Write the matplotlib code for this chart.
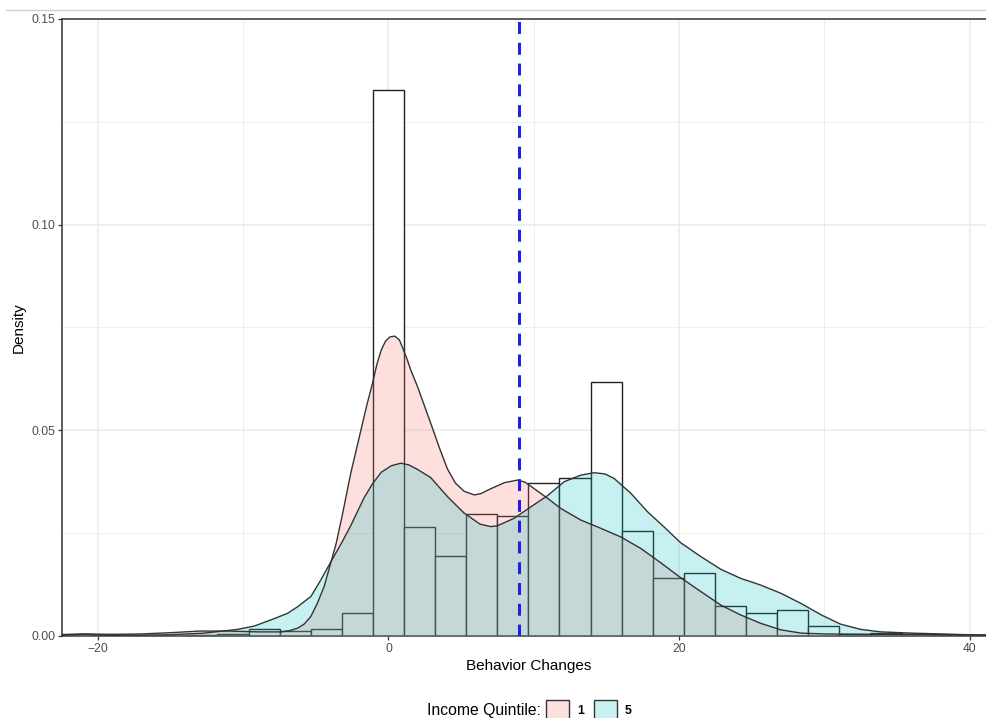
import numpy as np
import matplotlib
matplotlib.use('Agg')
import matplotlib.pyplot as plt
from matplotlib.patches import Rectangle
from matplotlib.lines import Line2D
from matplotlib.ticker import MultipleLocator

plt.rcParams['font.family'] = ['Liberation Sans', 'DejaVu Sans']

# histogram of all observations (density scale), bins centred on multiples of the width
bin_width = 2.14
bin_index = list(range(-10, 20))
bin_density = [0.0004, 0.0002, 0.0000, 0.0001, 0.0003, 0.0006, 0.0017, 0.0012,
               0.0016, 0.0055, 0.1328, 0.0266, 0.0194, 0.0296, 0.0292, 0.0373,
               0.0383, 0.0618, 0.0255, 0.0140, 0.0152, 0.0073, 0.0057, 0.0062,
               0.0024, 0.0004, 0.0008, 0.0005, 0.0002, 0.0001]

# density curve, income quintile 1
q1_x = [-22.47, -21, -19, -17, -15, -13, -11, -9, -7.4, -6.8, -6.26, -5.8, -5.35,
        -4.89, -4.43, -3.97, -3.6, -3.2, -2.6, -1.9, -1.5, -1.1, -0.8, -0.5, -0.2,
        0.1, 0.43, 0.75, 1.07, 1.3, 1.53, 2.0, 2.45, 2.9, 3.5, 4.06, 4.6, 5.2, 5.9,
        6.35, 7.04, 8.0, 8.88, 9.4, 9.8, 10.94, 11.86, 13.23, 14.6, 15.98, 17.36,
        18.74, 20.1, 21.5, 22.88, 24.25, 25.6, 27.0, 28.4, 30, 33, 36, 39, 41.73]
q1_y = [0.0003, 0.0005, 0.0004, 0.0005, 0.0008, 0.0012, 0.0012, 0.0010, 0.0010,
        0.0013, 0.0019, 0.0029, 0.0047, 0.0080, 0.0120, 0.0178, 0.0225, 0.0290,
        0.0395, 0.0500, 0.0560, 0.0614, 0.0660, 0.0695, 0.0717, 0.0727, 0.0729,
        0.0720, 0.0692, 0.0671, 0.0647, 0.0606, 0.0562, 0.0518, 0.0458, 0.0406,
        0.0372, 0.0352, 0.0343, 0.0346, 0.0358, 0.0373, 0.0379, 0.0374, 0.0364,
        0.0335, 0.0310, 0.0282, 0.0262, 0.0241, 0.0213, 0.0178, 0.0142, 0.0108,
        0.0075, 0.0051, 0.0031, 0.0015, 0.0007, 0.0005, 0.0004, 0.0004, 0.0003,
        0.0002]

# density curve, income quintile 5
q5_x = [-22.47, -21, -19, -17, -15, -12.7, -10.4, -9.25, -8.1, -6.95, -6.26, -5.34,
        -4.66, -3.97, -3.2, -2.6, -2.1, -1.68, -1.1, -0.5, 0.2, 0.85, 1.4, 2.0,
        2.91, 4.06, 5.2, 6.3, 7.04, 7.5, 8.64, 9.8, 10.94, 12.09, 13.23, 14.15,
        14.9, 15.53, 16.68, 17.83, 18.97, 20.1, 21.5, 22.88, 24.25, 25.6, 27.0,
        28.4, 29.8, 31.1, 32.5, 33.9, 36, 38, 40, 41.73]
q5_y = [0.0002, 0.0004, 0.0002, 0.0002, 0.0003, 0.0007, 0.0016, 0.0024, 0.0039,
        0.0055, 0.0071, 0.0096, 0.0136, 0.0180, 0.0228, 0.0268, 0.0305, 0.0336,
        0.0370, 0.0398, 0.0414, 0.0420, 0.0416, 0.0405, 0.0385, 0.0339, 0.0299,
        0.0272, 0.0266, 0.0268, 0.0286, 0.0314, 0.0341, 0.0375, 0.0391, 0.0397,
        0.0394, 0.0383, 0.0347, 0.0302, 0.0265, 0.0227, 0.0193, 0.0162, 0.0140,
        0.0124, 0.0104, 0.0079, 0.0051, 0.0029, 0.0016, 0.0010, 0.0007, 0.0005,
        0.0003, 0.0002]

mean_change = 9.0
group_labels = ['1', '5']
group_colors = ['#F8766D', '#00BFC4']

W, H = 986, 718
fig = plt.figure(figsize=(W / 100, H / 100), dpi=100)
left, right, top, bottom = 62, 994.8, 19, 636
ax = fig.add_axes([left / W, (H - bottom) / H, (right - left) / W, (bottom - top) / H])

centers = [k * bin_width for k in bin_index]
xmin = (bin_index[0] - 0.5) * bin_width
xmax = (bin_index[-1] + 0.5) * bin_width

ax.bar(centers, bin_density, width=bin_width, color='white', edgecolor='#222222',
       linewidth=1.0, zorder=2)

for xs, ys, col in [(q1_x, q1_y, group_colors[0]), (q5_x, q5_y, group_colors[1])]:
    ax.fill_between(xs, ys, 0, color=col, alpha=0.22, linewidth=0, zorder=3)
    ax.plot(xs, ys, color='#333333', linewidth=1.0, zorder=4, solid_joinstyle='round')

ax.axvline(mean_change, color='#1f1fe8', linewidth=2.2, dashes=(3.9, 2.9), zorder=5)

ax.set_xlim(xmin, xmax)
ax.set_ylim(0, 0.15)
ax.set_xticks([-20, 0, 20, 40])
ax.xaxis.set_minor_locator(MultipleLocator(10))
ax.set_yticks([0, 0.05, 0.10, 0.15])
ax.set_yticklabels(['0.00', '0.05', '0.10', '0.15'])
ax.yaxis.set_minor_locator(MultipleLocator(0.025))
ax.grid(which='major', color='#ebebeb', linewidth=1.1, zorder=0)
ax.grid(which='minor', color='#ebebeb', linewidth=0.6, zorder=0)
ax.set_axisbelow(True)
ax.tick_params(which='major', length=3, width=0.9, color='#333333',
               labelsize=8.8, labelcolor='#4d4d4d', pad=2)
ax.tick_params(which='minor', length=0)
for s in ax.spines.values():
    s.set_color('#333333')
    s.set_linewidth(1.1)

ax.set_xlabel('Behavior Changes', fontsize=11, labelpad=3)
ax.set_ylabel('Density', fontsize=11, labelpad=4)

# thin rule above the panel
fig.add_artist(Line2D([6 / W, 1], [(H - 10) / H] * 2, color='#cfcfcf', linewidth=1.0))

# legend at the bottom
fig.text(541 / W, (H - 711) / H, 'Income Quintile:', fontsize=11.3, ha='right', va='center')
key_x = [546, 594]
for kx, col, lab in zip(key_x, group_colors, group_labels):
    fig.add_artist(Rectangle((kx / W, (H - 724) / H), 23 / W, 24 / H,
                             transform=fig.transFigure, facecolor=col, alpha=0.22,
                             edgecolor='none'))
    fig.add_artist(Rectangle((kx / W, (H - 724) / H), 23 / W, 24 / H,
                             transform=fig.transFigure, facecolor='none',
                             edgecolor='#333333', linewidth=1.0))
    fig.text((kx + 31) / W, (H - 711) / H, lab, fontsize=8.8, ha='left', va='center',
             fontweight='bold')

fig.savefig('out.png', dpi=100)
